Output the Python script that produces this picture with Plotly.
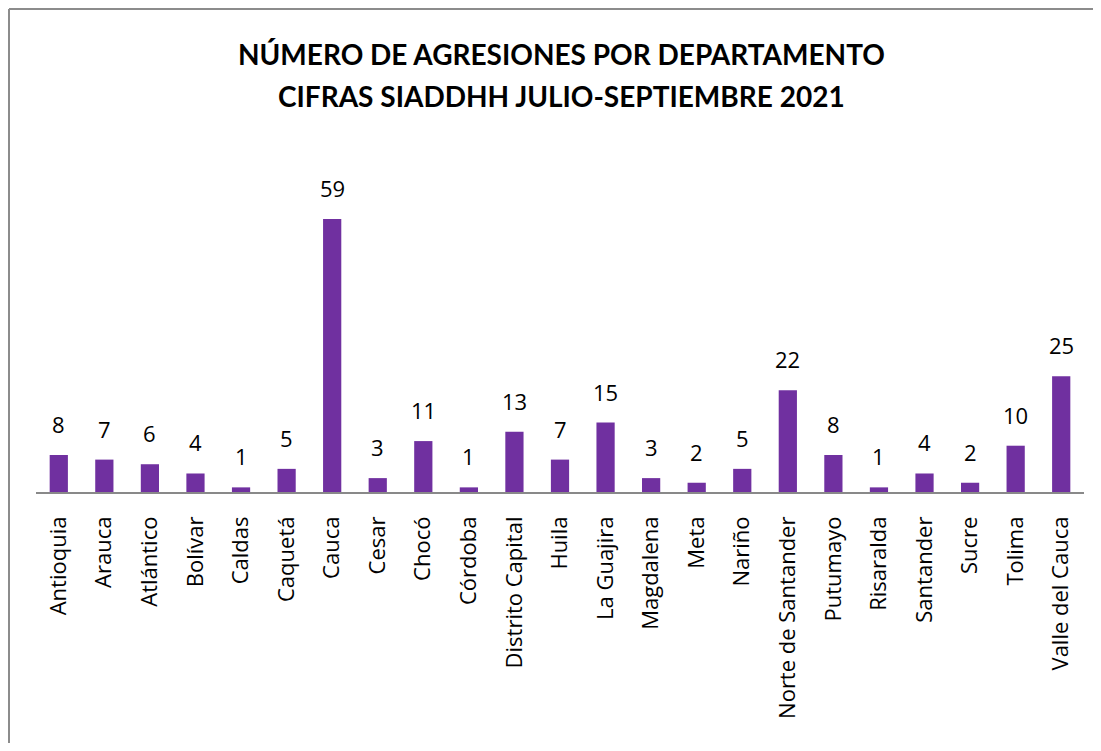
import plotly.graph_objects as go

categories = ["Antioquia", "Arauca", "Atlántico", "Bolívar", "Caldas", "Caquetá", "Cauca",
              "Cesar", "Chocó", "Córdoba", "Distrito Capital", "Huila", "La Guajira",
              "Magdalena", "Meta", "Nariño", "Norte de Santander", "Putumayo", "Risaralda",
              "Santander", "Sucre", "Tolima", "Valle del Cauca"]
values = [8, 7, 6, 4, 1, 5, 59, 3, 11, 1, 13, 7, 15, 3, 2, 5, 22, 8, 1, 4, 2, 10, 25]

title_lines = ["NÚMERO DE AGRESIONES POR DEPARTAMENTO", "CIFRAS SIADDHH JULIO-SEPTIEMBRE 2021"]

FONT = "Open Sans"
TFONT = "Lato"
OFF = 8  # page body offset
W, H = 1101 - 2 * OFF, 751 - 2 * OFF
ML = 36 - OFF
MR = W - (1084 - OFF)
MT = 168 - OFF
MB = H - (492 - OFF)

pw = W - ML - MR
ph = H - MT - MB


def px_x(x):
    return (x - OFF - ML) / pw


def px_y(y):
    return (H - MB - (y - OFF)) / ph


fig = go.Figure()
fig.add_trace(go.Bar(x=categories, y=values, marker=dict(color="#7030A0", line=dict(width=0)),
                     hoverinfo="x+y"))

for c, v in zip(categories, values):
    fig.add_annotation(x=c, y=v, text=str(v), showarrow=False, yanchor="bottom", yshift=14,
                       font=dict(family=FONT, size=22, color="#000000"))

for i, line in enumerate(title_lines):
    fig.add_annotation(xref="paper", yref="paper", x=px_x(561), y=px_y(54 + 42 * i),
                       text="<b>" + line + "</b>", showarrow=False,
                       xanchor="center", yanchor="middle",
                       font=dict(family=TFONT, size=28, color="#000000"))

border = dict(color="#8c8c8c", width=2)
fig.add_shape(type="line", xref="paper", yref="paper",
              x0=px_x(9), x1=px_x(1110), y0=px_y(9), y1=px_y(9), line=border, layer="below")
fig.add_shape(type="line", xref="paper", yref="paper",
              x0=px_x(9), x1=px_x(9), y0=px_y(9), y1=px_y(760), line=border, layer="below")

fig.update_layout(
    width=W, height=H,
    margin=dict(l=ML, r=MR, t=MT, b=MB, pad=0),
    paper_bgcolor="white", plot_bgcolor="white",
    bargap=0.6,
    showlegend=False,
    xaxis=dict(tickangle=-90, showline=True, linecolor="#898989", linewidth=1.5,
               showgrid=False, ticks="", ticklabelstandoff=14,
               tickfont=dict(family=FONT, size=22, color="#000000"), fixedrange=True,
               automargin=False),
    yaxis=dict(range=[0, 70], visible=False, showgrid=False, zeroline=False, fixedrange=True),
)

fig.write_html("out.html")
